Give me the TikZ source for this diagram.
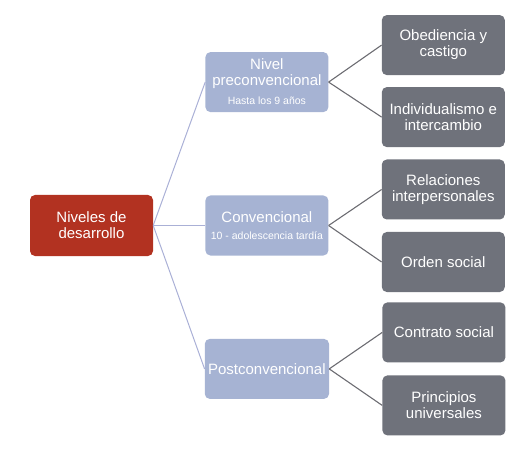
\documentclass[tikz,border=0pt]{standalone}
\usepackage{fontspec}
\setmainfont{Liberation Sans}
\usepackage{tikz}
\usetikzlibrary{positioning}

\definecolor{rootred}{RGB}{178,50,33}
\definecolor{stageblue}{RGB}{166,179,211}
\definecolor{leafgray}{RGB}{111,114,123}
\definecolor{linkblue}{RGB}{170,176,214}
\definecolor{linkgray}{RGB}{108,108,114}

\begin{document}
\begin{tikzpicture}[x=1pt, y=1pt, node distance=53pt,
    rootbox/.style={draw=none, fill=rootred, rounded corners=5pt, text=white,
        minimum width=123pt, minimum height=61pt, align=center,
        font=\fontsize{15}{16}\selectfont},
    stagebox/.style={draw=none, fill=stageblue, rounded corners=5pt, text=white,
        minimum width=123pt, minimum height=60pt, align=center,
        font=\fontsize{15}{16}\selectfont},
    leafbox/.style={draw=none, fill=leafgray, rounded corners=5pt, text=white,
        minimum width=123pt, minimum height=60pt, align=center,
        font=\fontsize{15}{16}\selectfont},
    rootlink/.style={draw=linkblue, line width=1pt},
    leaflink/.style={draw=linkgray, line width=1.1pt}]
	%\draw[help lines, yellow] (0,0) grid (530,-449);
	\useasboundingbox (0,0) rectangle (530,-449);
	% We start by placing the blocks
	\node [rootbox] (root) at (91.5,-225.5) {Niveles de\\desarrollo};
	\node [stagebox, right=52pt of root] (conv) {Convencional\\[1pt]{\fontsize{10.5}{12}\selectfont 10 - adolescencia tardía}};
	\node [stagebox, above=83pt of conv] (pre) {Nivel\\preconvencional\\[3pt]{\fontsize{10.5}{12}\selectfont Hasta los 9 años}};
	\node [stagebox, below=83pt of conv] (post) {Postconvencional};
	% leaves, two for each stage
	\node [leafbox, right=53pt of pre, yshift=37pt] (obed) {Obediencia y\\castigo};
	\node [leafbox, right=53pt of pre, yshift=-35pt] (indiv) {Individualismo e\\intercambio};
	\node [leafbox, right=53pt of conv, yshift=36pt] (relac) {Relaciones\\interpersonales};
	\node [leafbox, right=53pt of conv, yshift=-36.5pt] (orden) {Orden social};
	\node [leafbox, right=53pt of post, yshift=36.5pt] (contr) {Contrato social};
	\node [leafbox, right=53pt of post, yshift=-36.5pt] (princ) {Principios\\universales};
	% Once the nodes are placed, connecting them is easy.
	\draw [rootlink] (root.east) -- (pre.west);
	\draw [rootlink] (root.east) -- (conv.west);
	\draw [rootlink] (root.east) -- (post.west);
	\draw [leaflink] (pre.east) -- (obed.west);
	\draw [leaflink] (pre.east) -- (indiv.west);
	\draw [leaflink] (conv.east) -- (relac.west);
	\draw [leaflink] (conv.east) -- (orden.west);
	\draw [leaflink] (post.east) -- (contr.west);
	\draw [leaflink] (post.east) -- (princ.west);
\end{tikzpicture}
\end{document}
